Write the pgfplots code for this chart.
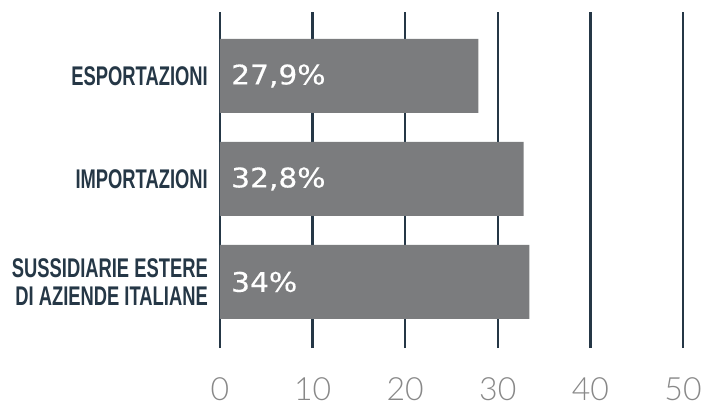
\documentclass[border=0pt]{standalone}
\usepackage{pgfplots}
\pgfplotsset{compat=1.18}
\usepackage{fontspec}
\setmainfont{Liberation Sans}
\newfontfamily\catfont[FakeStretch=0.68]{Liberation Sans}
\newfontfamily\valfont[FakeStretch=1.1,FakeBold=0.4]{DejaVu Sans}
\newfontfamily\tickfont{Lato Light}
\definecolor{navy}{HTML}{253746}
\definecolor{barg}{HTML}{7B7C7E}
\definecolor{tickg}{HTML}{888888}
\begin{document}
\begin{tikzpicture}
\useasboundingbox (-220pt,-59pt) rectangle (489pt,348pt);
\begin{axis}[
  at={(0,0)}, anchor=south west,
  scale only axis,
  width=463pt, height=336pt,
  xmin=0, xmax=50,
  ymin=0.359, ymax=3.621,
  axis line style={draw=none},
  xtick={0,10,20,30,40,50},
  ytick={1,2,3},
  yticklabels={{SUSSIDIARIE ESTERE\\DI AZIENDE ITALIANE},{IMPORTAZIONI},{ESPORTAZIONI}},
  major tick length=0pt,
  xmajorgrids,
  major grid style={draw=navy, line width=2.4pt},
  xticklabel style={font=\fontsize{32}{32}\selectfont\tickfont, text=tickg, anchor=north, inner sep=0pt, yshift=-29pt},
  yticklabel style={font=\catfont\bfseries\fontsize{27}{28}\selectfont, text=navy, align=right, anchor=east, inner sep=0pt, xshift=-12pt},
  /pgf/number format/assume math mode=true,
  clip=false,
]
\addplot[xbar, bar width=74pt, bar shift=0pt, fill=barg, draw=none]
  coordinates {(27.9,3) (32.8,2) (33.4,1)};
\addplot[draw=none, mark=none, nodes near coords, point meta=explicit symbolic,
  every node near coord/.style={anchor=west, text=white, inner sep=0pt, xshift=11pt, font=\valfont\fontsize{27}{27}\selectfont}]
  coordinates {(0,3) [{27,9\%}] (0,2) [{32,8\%}] (0,1) [{34\%}]};
\end{axis}
\end{tikzpicture}
\end{document}
